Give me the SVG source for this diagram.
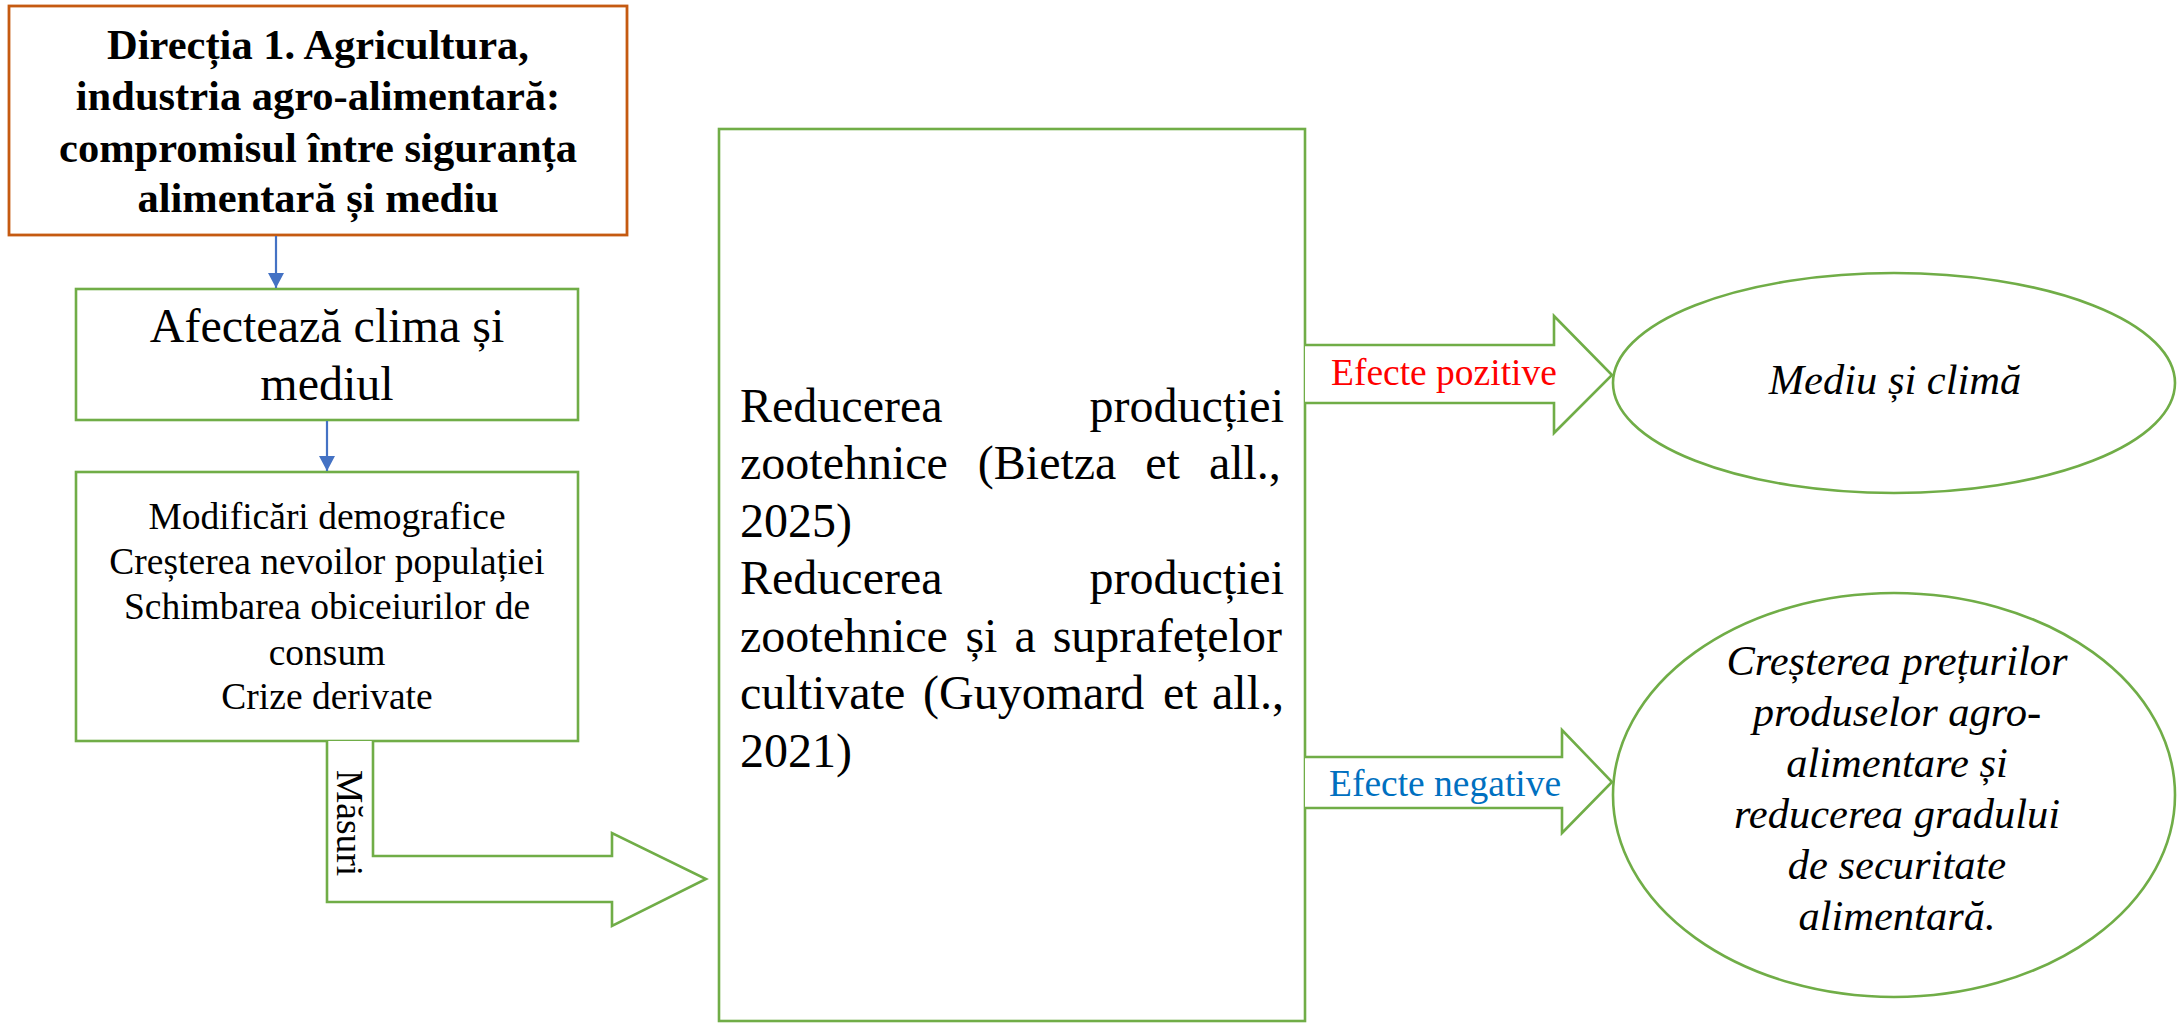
<svg xmlns="http://www.w3.org/2000/svg" width="2177" height="1023" viewBox="0 0 2177 1023">
  <style>
    text { font-family: "Liberation Serif", "Times New Roman", serif; fill: #000; }
    .box { fill: #fff; stroke: #70AD47; stroke-width: 2.6; }
    .head { fill: #fff; stroke: #70AD47; stroke-width: 2.6; stroke-linejoin: miter; }
    .title { font-weight: bold; font-size: 42.5px; text-anchor: middle; }
    .mid { font-size: 48px; text-anchor: middle; }
    .small { font-size: 37.5px; text-anchor: middle; }
    .body { font-size: 48px; }
    .oval { font-size: 42.5px; font-style: italic; text-anchor: middle; }
    .link { stroke: #4472C4; stroke-width: 2.2; fill: none; }
    .lbl { font-size: 37.5px; }
  </style>
  <defs>
    <marker id="tip" viewBox="0 0 15 16" refX="15" refY="8" markerWidth="15" markerHeight="16" markerUnits="userSpaceOnUse" orient="auto">
      <path d="M0,0 L15,8 L0,16 z" fill="#4472C4"/>
    </marker>
  </defs>

  <rect width="2177" height="1023" fill="#fff"/>

  <!-- header box -->
  <g id="directia">
    <rect x="9" y="6" width="618" height="229" fill="#fff" stroke="#C55A11" stroke-width="2.8"/>
    <text class="title" x="318" y="59">Direcția 1. Agricultura,</text>
    <text class="title" x="318" y="110">industria agro-alimentară:</text>
    <text class="title" x="318" y="162">compromisul între siguranța</text>
    <text class="title" x="318" y="212">alimentară și mediu</text>
  </g>

  <g id="afecteaza">
    <rect class="box" x="76" y="289" width="502" height="131"/>
    <text class="mid" x="327" y="342">Afectează clima și</text>
    <text class="mid" x="327" y="400">mediul</text>
  </g>

  <g id="modificari">
    <rect class="box" x="76" y="472" width="502" height="269"/>
    <text class="small" x="327" y="529">Modificări demografice</text>
    <text class="small" x="327" y="574">Creșterea nevoilor populației</text>
    <text class="small" x="327" y="619">Schimbarea obiceiurilor de</text>
    <text class="small" x="327" y="665">consum</text>
    <text class="small" x="327" y="709">Crize derivate</text>
  </g>

  <!-- central box, justified text -->
  <g id="reducerea">
    <rect class="box" x="719" y="129" width="586" height="892"/>
    <text class="body" x="740" y="421.5">Reducerea</text>
    <text class="body" x="1284" y="421.5" text-anchor="end">producției</text>
    <text class="body" y="479"><tspan x="740">zootehnice</tspan><tspan x="977.8">(Bietza</tspan><tspan x="1145.3">et</tspan><tspan x="1208.9">all.,</tspan></text>
    <text class="body" x="740" y="536.5">2025)</text>
    <text class="body" x="740" y="594">Reducerea</text>
    <text class="body" x="1284" y="594" text-anchor="end">producției</text>
    <text class="body" y="651.5"><tspan x="740">zootehnice</tspan><tspan x="965.4">și</tspan><tspan x="1014.4">a</tspan><tspan x="1052.7">suprafețelor</tspan></text>
    <text class="body" y="709"><tspan x="740">cultivate</tspan><tspan x="923.1">(Guyomard</tspan><tspan x="1163.0">et</tspan><tspan x="1212.0">all.,</tspan></text>
    <text class="body" x="740" y="766.5">2021)</text>
  </g>

  <g id="mediu">
    <ellipse class="box" cx="1894" cy="383" rx="281" ry="110"/>
    <text class="oval" x="1895" y="394">Mediu și climă</text>
  </g>

  <g id="preturi">
    <ellipse class="box" cx="1894" cy="795" rx="281" ry="202"/>
    <text class="oval" x="1897" y="675">Creșterea prețurilor</text>
    <text class="oval" x="1897" y="726">produselor agro-</text>
    <text class="oval" x="1897" y="777">alimentare și</text>
    <text class="oval" x="1897" y="828">reducerea gradului</text>
    <text class="oval" x="1897" y="879">de securitate</text>
    <text class="oval" x="1897" y="930">alimentară.</text>
  </g>

  <!-- connectors -->
  <g id="connectors">
    <line class="link" x1="276" y1="236" x2="276" y2="288" marker-end="url(#tip)"/>
    <line class="link" x1="327" y1="421" x2="327" y2="471" marker-end="url(#tip)"/>

    <!-- bent block arrow labelled "Măsuri" -->
    <polyline class="head" points="327,741 327,902 612,902 612,926 706,879 612,833 612,856 373,856 373,741"/>
    <text class="lbl" transform="translate(337,770) rotate(90)">Măsuri</text>

    <!-- block arrow, positive effects -->
    <polyline class="head" points="1305,345 1554,345 1554,316 1612,375 1554,433 1554,403 1305,403"/>
    <text class="lbl" x="1331" y="385" fill="#FF0000" style="fill:#FF0000">Efecte pozitive</text>

    <!-- block arrow, negative effects -->
    <polyline class="head" points="1305,757 1562,757 1562,730 1612,782 1562,833 1562,808 1305,808"/>
    <text class="lbl" x="1329" y="796" style="fill:#0070C0">Efecte negative</text>
  </g>
</svg>
